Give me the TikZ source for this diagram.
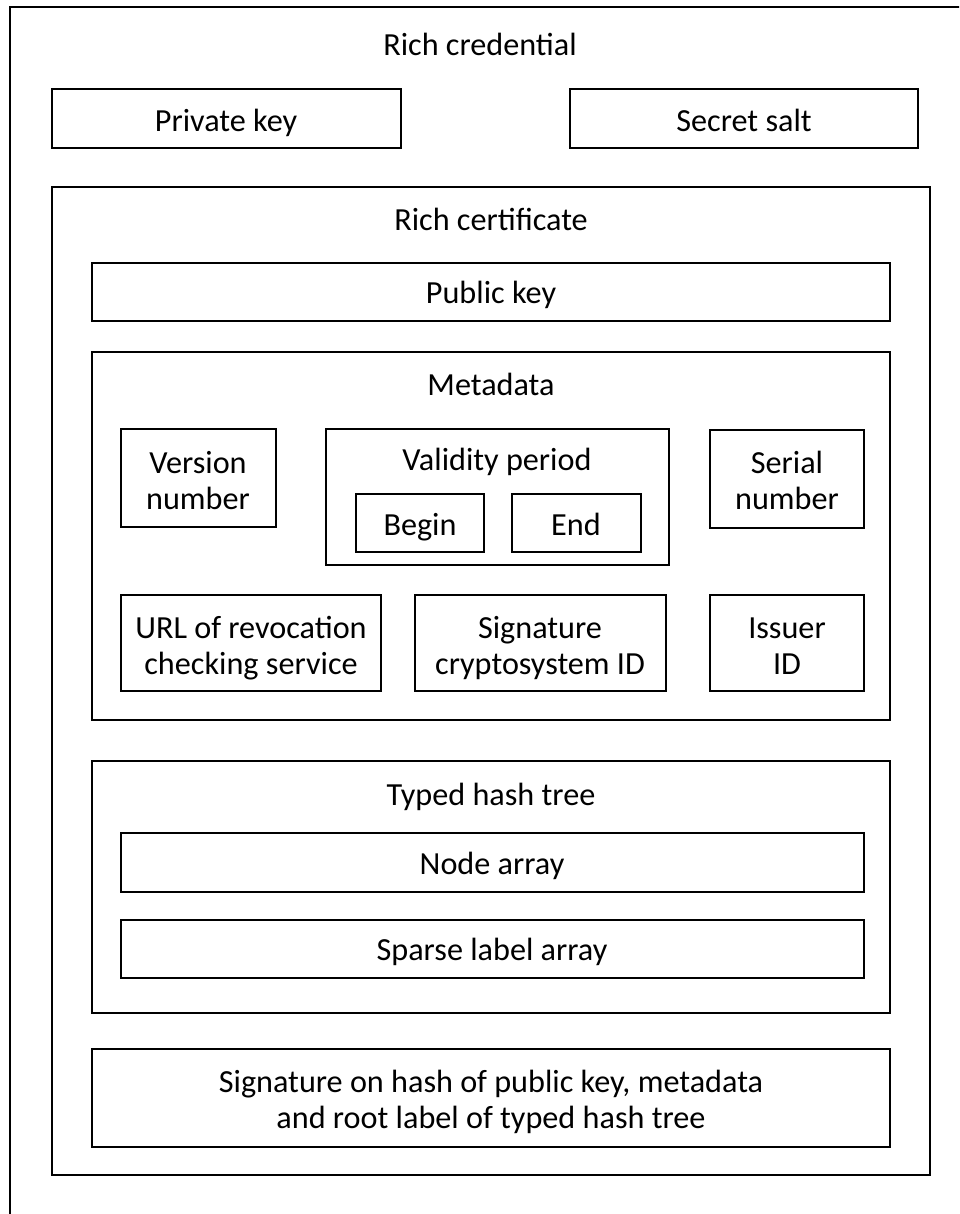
\documentclass[tikz,border=0pt]{standalone}
\usepackage{fontspec}
\setmainfont{Carlito}
\begin{document}
\begin{tikzpicture}[x=1pt,y=-1pt,
  bx/.style={draw=black,line width=1.6pt},
  lbl/.style={anchor=base,align=center,inner sep=0pt,font=\fontsize{32.2}{36}\selectfont}]
\useasboundingbox (0,0) rectangle (959,1214);
\begin{scope}
\clip (0,0) rectangle (959,1214);
\draw[bx] (10,7) rectangle (1000,1260);
\end{scope}
% boxes
\draw[bx] (52,89) rectangle (401,148);
\draw[bx] (570,89) rectangle (918,148);
\draw[bx] (52,187) rectangle (930,1175);
\draw[bx] (92,263) rectangle (890,321);
\draw[bx] (92,352) rectangle (890,720);
\draw[bx] (121,429) rectangle (276,527);
\draw[bx] (326,429) rectangle (669,565);
\draw[bx] (356,494) rectangle (484,552);
\draw[bx] (512,494) rectangle (641,552);
\draw[bx] (710,430) rectangle (864,528);
\draw[bx] (121,595) rectangle (381,691);
\draw[bx] (415,595) rectangle (666,691);
\draw[bx] (710,595) rectangle (864,691);
\draw[bx] (92,761) rectangle (890,1013);
\draw[bx] (121,833) rectangle (864,892);
\draw[bx] (121,920) rectangle (864,978);
\draw[bx] (92,1049) rectangle (890,1147);
% labels
\node[lbl] (tcred) at (480,56) {Rich credential};
\node[lbl] (tpriv) at (226,132) {Private key};
\node[lbl] (tsalt) at (744,132) {Secret salt};
\node[lbl] (tcert) at (491,231) {Rich certificate};
\node[lbl] (tpub) at (491,303) {Public key};
\node[lbl] (tmeta) at (491,395) {Metadata};
\node[lbl] (tver) at (198,509) {Version\\number};
\node[lbl] (tval) at (497,470) {Validity period};
\node[lbl] (tbeg) at (420,535) {Begin};
\node[lbl] (tend) at (576,535) {End};
\node[lbl] (tser) at (787,509) {Serial\\number};
\node[lbl] (turl) at (251,674) {URL of revocation\\checking service};
\node[lbl] (tsig) at (540,674) {Signature\\cryptosystem ID};
\node[lbl] (tiss) at (787,674) {Issuer\\ID};
\node[lbl] (ttree) at (491,805) {Typed hash tree};
\node[lbl] (tnode) at (492,874) {Node array};
\node[lbl] (tsparse) at (492,960) {Sparse label array};
\node[lbl] (tsign) at (491,1128) {Signature on hash of public key, metadata\\and root label of typed hash tree};
\end{tikzpicture}
\end{document}
